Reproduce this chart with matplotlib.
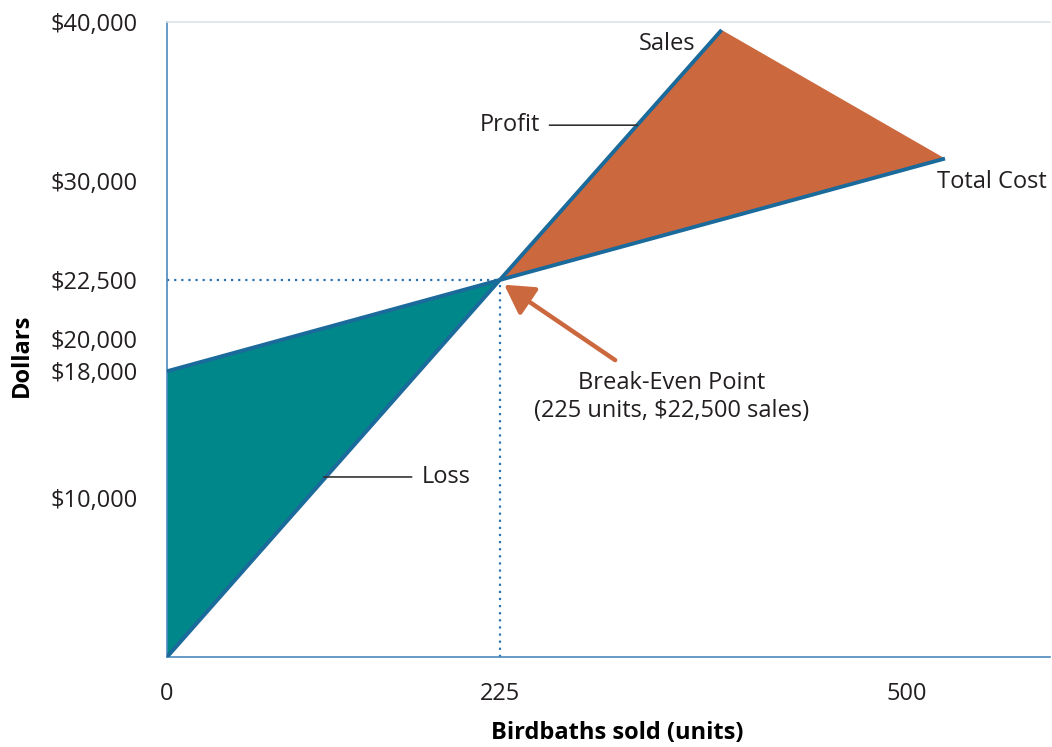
import numpy as np
import matplotlib
matplotlib.use("Agg")
import matplotlib.pyplot as plt

# --- datos ---
break_even_units = 225
break_even_sales = 22500
fixed_cost = 18000
sales_units = [0, break_even_units, 375]
sales_dollars = [0, break_even_sales, 39500]
cost_units = [0, break_even_units, 526]
cost_dollars = [fixed_cost, break_even_sales, 31400]
xtick_values = [0, 225, 500]
ytick_values = [10000, 18000, 20000, 22500, 30000, 40000]
ytick_labels = ["$10,000", "$18,000", "$20,000", "$22,500", "$30,000", "$40,000"]

# el original es esquemático: $22,500 aparece algo por encima de su posición lineal
scale_knots = [0, 20000, 22500, 30000, 40000]
scale_drawn = [0, 20000, 23750, 30000, 40000]

TEAL = "#00878a"
ORANGE = "#cc683e"
LINE = "#1b6a9c"
SPINE = "#4d89bd"
TEXT = "#231f20"

plt.rcParams["font.family"] = ["Open Sans", "DejaVu Sans"]
plt.rcParams["text.color"] = TEXT

fig = plt.figure(figsize=(10.52, 7.47), dpi=100)
ax = fig.add_axes([167 / 1052, 90 / 747, 883 / 1052, 635 / 747])

ax.set_yscale("function", functions=(lambda v: np.interp(v, scale_knots, scale_drawn),
                                     lambda v: np.interp(v, scale_drawn, scale_knots)))
ax.set_xlim(0, 597)
ax.set_ylim(0, 40000)

# áreas de pérdida y ganancia
ax.fill([0, 0, break_even_units], [0, fixed_cost, break_even_sales], color=TEAL, lw=0, zorder=2)
ax.fill([break_even_units, sales_units[-1], cost_units[-1]],
        [break_even_sales, sales_dollars[-1], cost_dollars[-1]], color=ORANGE, lw=0, zorder=2)

ax.plot(sales_units, sales_dollars, color=LINE, lw=2.8, solid_capstyle="butt", zorder=3)
ax.plot(cost_units, cost_dollars, color=LINE, lw=2.8, solid_capstyle="butt", zorder=3)

# líneas punteadas hacia el punto de equilibrio
ax.plot([0, break_even_units], [break_even_sales, break_even_sales], color="#2d74b0",
        lw=1.6, ls=(0, (1, 2.2)), zorder=1)
ax.plot([break_even_units, break_even_units], [0, break_even_sales], color="#2d74b0",
        lw=1.6, ls=(0, (1, 2.2)), zorder=1)

# etiquetas
fs = 17
ax.text(338, 38600, "Sales", fontsize=fs, ha="center", va="center")
ax.text(558, 29900, "Total Cost", fontsize=fs, ha="center", va="center")
ax.annotate("Profit", xy=(318, 33500), xytext=(252, 33500), fontsize=fs, ha="right", va="center",
            arrowprops=dict(arrowstyle="-", color="#333333", lw=1.2, shrinkA=5, shrinkB=0))
ax.annotate("Loss", xy=(106, 11340), xytext=(172, 11340), fontsize=fs, ha="left", va="center",
            arrowprops=dict(arrowstyle="-", color="#333333", lw=1.2, shrinkA=5, shrinkB=0))
ax.text(341, 16380, "Break-Even Point\n(225 units, $22,500 sales)", fontsize=fs,
        ha="center", va="center", linespacing=1.25)
ax.annotate("", xy=(228, 22300), xytext=(303, 18700),
            arrowprops=dict(arrowstyle="-|>,head_length=0.4,head_width=0.23", color=ORANGE,
                            lw=3.2, mutation_scale=44, shrinkA=0, shrinkB=0))

# ejes
ax.set_xticks(xtick_values)
ax.set_xticklabels([str(v) for v in xtick_values])
ax.set_yticks(ytick_values)
ax.set_yticklabels(ytick_labels)
ax.tick_params(axis="both", length=0, labelsize=fs, colors=TEXT)
ax.tick_params(axis="y", pad=21)
ax.tick_params(axis="x", pad=18)

for side in ["left", "bottom"]:
    ax.spines[side].set_color(SPINE)
    ax.spines[side].set_linewidth(1.2)
ax.spines["right"].set_visible(False)
ax.spines["top"].set_color("#dde3e8")
ax.spines["top"].set_linewidth(1.2)

ax.set_xlabel("Birdbaths sold (units)", fontsize=fs, fontweight="bold", va="center")
ax.xaxis.set_label_coords((617 - 167) / 883, (657 - 733) / 635)
ax.set_ylabel("Dollars", fontsize=fs, fontweight="bold", va="center")
ax.yaxis.set_label_coords((22 - 167) / 883, (657 - 355) / 635)

fig.savefig("out.png", dpi=100)
